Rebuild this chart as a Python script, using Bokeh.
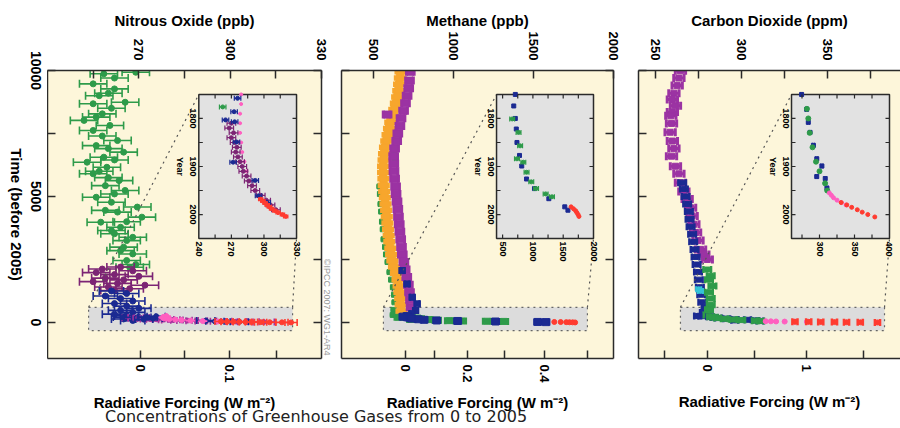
import numpy as np
from bokeh.plotting import figure
from bokeh.models import Range1d, LinearAxis, FixedTicker, CustomJSTickFormatter, Title, Div
from bokeh.layouts import row, column
from bokeh.embed import file_html
from bokeh.resources import INLINE
from bokeh.core.properties import value

# ------------------------------------------------------------------ data
time_ticks = [0, 5000, 10000]
time_minor = [2500, 7500]
time_label = "Time (before 2005)"
year_ticks = [1800, 1900, 2000]
year_minor = [1850, 1950]

# ---- Nitrous oxide (ppb); main panel: t = years before 2005
n2o_top_ticks = [270, 300, 330]
n2o_top_minor = [255, 285, 315]
n2o_rf_ticks = [0.0, 0.1]
n2o_rf_labels = ["0", "0.1"]
n2o_rf_minor = [0.05, 0.15]
n2o_inset_ticks = [240, 270, 300, 330]
n2o_inset_minor = [255, 285, 315]

n2o_green_t = [9930, 9870, 9700, 9470, 9270, 9100, 9000, 8740, 8680, 8500, 8280, 8150, 8020, 7820, 7620,
               7400, 7220, 7020, 6900, 6760, 6560, 6450, 6360, 6160, 6000, 5900, 5750, 5630, 5430, 5240,
               5100, 4970, 4770, 4580, 4450, 4380, 4180, 4000, 3980, 3780, 3650, 3520, 3380, 3250, 2990,
               2850, 2720, 2460, 2300, 2190]
n2o_green_c = [269, 258.5, 262, 255, 262, 260, 257, 265.5, 255, 261, 258, 256, 252, 260.5, 255,
               258, 263, 256, 260, 265, 258.5, 262, 253, 259.5, 257, 255, 260, 263.5, 259, 265.5,
               262, 256, 261, 269.5, 259, 263, 271, 266, 257.5, 264, 261, 262, 268, 266, 265,
               264, 268, 266, 269, 267]
n2o_purple_t = [2200, 2120, 2050, 1980, 1900, 1830, 1760, 1690, 1620, 1550, 1480, 1410, 1340, 1270]
n2o_purple_c = [264, 258, 268, 256, 262, 270, 259, 265, 255, 263, 272, 260, 267, 262]
n2o_blue_t = [1250, 1150, 1050, 950, 850, 750, 650, 560, 480, 400, 330, 260, 200, 140, 80]
n2o_blue_c = [261, 266, 259, 264, 268, 262, 266, 270, 264, 268, 262, 266, 270, 265, 268]

# inset / last centuries (calendar years)
n2o_ins_blue_y = [1758, 1786, 1803, 1807, 1849, 1891, 1929, 1961, 1975]
n2o_ins_blue_c = [275.7, 272.5, 264.6, 273, 274.7, 271.6, 292, 295, 303]
n2o_ins_green_y = [1776]
n2o_ins_green_c = [262]
n2o_ins_purple_y = [1810, 1820, 1830, 1840, 1850, 1860, 1870, 1880, 1890, 1900, 1910, 1920, 1930, 1940,
                    1950, 1960, 1970, 1980, 1990]
n2o_ins_purple_c = [270, 268, 272, 270, 273, 275, 274, 276, 278, 280, 281, 284, 286, 289,
                    292, 297, 302, 306, 311]
n2o_ins_pink_y = [1750, 1770, 1790, 1810, 1830, 1850, 1870, 1890, 1910, 1930, 1950, 1965]
n2o_ins_pink_c = [279, 279, 278, 278, 278, 279, 280, 282, 284, 287, 291, 296]
n2o_ins_red_y = [1968, 1972, 1976, 1980, 1984, 1988, 1992, 1996, 2000, 2004]
n2o_ins_red_c = [297, 299, 301, 303, 305, 307, 310, 313, 317, 320]

# ---- Methane (ppb)
ch4_top_ticks = [500, 1000, 1500, 2000]
ch4_top_minor = []
ch4_rf_ticks = [0.0, 0.2, 0.4]
ch4_rf_labels = ["0", "0.2", "0.4"]
ch4_rf_minor = [0.1, 0.3, 0.5]
ch4_inset_ticks = [500, 1000, 1500, 2000]
ch4_inset_minor = [750, 1250, 1750]

ch4_orange_t = [9950, 9700, 9450, 9200, 8950, 8700, 8450, 8200, 7950, 7700, 7450, 7200, 6950, 6700,
                6450, 6200, 5950, 5700, 5450, 5200, 4950, 4700, 4450, 4200, 3950, 3700, 3450, 3200,
                2950, 2700, 2450, 2200, 1950, 1700, 1450, 1200, 950, 700, 450, 250]
ch4_orange_c = [669, 665, 660, 655, 648, 640, 630, 615, 605, 597, 588, 580, 572, 566,
                563, 560, 560, 562, 564, 567, 571, 575, 579, 583, 587, 591, 595, 599,
                605, 610, 618, 628, 640, 650, 657, 662, 667, 670, 675, 685]
ch4_purple_t = [9950, 9600, 9300, 9000, 8700, 8400, 8250, 8100, 7800, 7500, 7200, 6900, 6600, 6300,
                6000, 5700, 5400, 5100, 4800, 4500, 4200, 3900, 3600, 3300, 3000, 2700, 2400, 2100,
                1800, 1500, 1200, 900, 600]
ch4_purple_c = [730, 725, 720, 710, 700, 688, 585, 672, 665, 652, 645, 632, 626, 627,
                628, 632, 638, 641, 647, 652, 656, 661, 665, 670, 675, 680, 690, 698,
                708, 718, 725, 731, 735]
ch4_green_t = [6700, 6500, 5400, 5100, 4700, 4400, 4000, 3700, 3300, 3000, 2700, 2400, 2000, 1700,
               1400, 1100, 800, 500, 300]
ch4_green_c = [627, 632, 537, 540, 544, 548, 553, 558, 563, 572, 578, 588, 600, 610,
               621, 628, 631, 625, 620]
ch4_blue_t = [2060, 1530, 1000, 740, 475, 350]
ch4_blue_c = [679, 710, 742, 773, 763, 740]

ch4_ins_blue_y = [1750, 1774, 1800, 1822, 1850, 1877, 1899, 1926, 1946, 1967, 1984, 1991]
ch4_ins_blue_c = [710, 684, 710, 726, 737, 779, 816, 895, 1026, 1263, 1526, 1578]
ch4_ins_green_y = [1801, 1829, 1857, 1884, 1891, 1912, 1932, 1946, 1957, 1963]
ch4_ins_green_c = [658, 763, 789, 737, 842, 895, 973, 1052, 1210, 1315]
ch4_ins_red_y = [1984, 1988, 1992, 1996, 2000, 2004]
ch4_ins_red_c = [1630, 1670, 1705, 1725, 1745, 1760]

# ---- Carbon dioxide (ppm)
co2_top_ticks = [250, 300, 350]
co2_top_minor = [275, 325, 375]
co2_rf_ticks = [0.0, 1.0]
co2_rf_labels = ["0", "1"]
co2_rf_minor = [-0.5, 0.5, 1.5]
co2_inset_ticks = [300, 350, 400]
co2_inset_minor = [275, 325, 375]

co2_purple_t = [9990, 9700, 9400, 9100, 8850, 8600, 8350, 8200, 7900, 7550, 7200, 6900, 6600, 6200,
                5900, 5550, 5200, 4900, 4550, 4230, 3900, 3570, 3250, 2900, 2700, 2500]
co2_purple_c = [264.4, 263.5, 262.5, 260.6, 259.7, 261.5, 259.7, 258.8, 259.2, 258.4, 259.7, 260.6,
                259.2, 261.5, 263.5, 264.4, 266.4, 268.3, 270.3, 271.2, 272.2, 273.2, 274.6, 276.1,
                278, 280]
co2_blue_t = [5550, 5300, 5000, 4700, 4400, 4100, 3800, 3500, 3200, 2900, 2600, 2300, 2000, 1700,
              1400, 1100, 800, 600, 400, 250]
co2_blue_c = [265.4, 266.4, 267.4, 268.3, 269.3, 269.7, 270.3, 271.2, 271.8, 272.6, 273.2, 273.8,
              274.6, 275.1, 275.7, 276.5, 277.1, 279, 278, 277.1]
co2_green_t = [2100, 1850, 1700, 1450, 1200, 950, 700, 500, 300]
co2_green_c = [280, 282, 281, 283, 281, 282, 282, 281, 280]
co2_cyan_t = [1320, 1250]
co2_cyan_c = [275, 276]

co2_ins_blue_y = [1750, 1781, 1808, 1829, 1856, 1884, 1899, 1921, 1925, 1945]
co2_ins_blue_c = [274.4, 281.6, 284, 286.5, 291.3, 296.1, 303.4, 296, 308.2, 310.6]
co2_ins_green_y = [1780, 1800, 1830, 1860, 1890, 1910, 1935, 1950]
co2_ins_green_c = [282, 284, 286, 290, 295, 300, 308, 311]
co2_ins_pink_y = [1955, 1960, 1965, 1970, 1975, 1980]
co2_ins_pink_c = [314, 317, 320, 325, 331, 338]
co2_ins_red_y = [1975, 1980, 1985, 1990, 1995, 2000, 2005]
co2_ins_red_c = [331, 339, 346, 354, 361, 369, 379]

# ------------------------------------------------------------------ style
BG = "#fdf6da"
INSET_BG = "#e2e2e2"
HL_BG = "#dcdcdc"
AX = "#2a2a2a"
GREEN = "#2e9b4a"
DPURPLE = "#7c2474"
NAVY = "#1b2a92"
MAGENTA = "#a8329e"
PINK = "#ff5fc0"
RED = "#ff3b30"
ORANGE = "#f7a62d"
PURPLE = "#9b33a3"
CYAN = "#35c4d6"
FONT = "Liberation Sans"
REF_YEAR = 2005
YEAR_SRC = (2050, 1750)
T_RANGE = (-1430, 10000)
INSET_T = (3330, 9050)
HL_T = (-320, 600)
FIG_H = 413
TOP_B = 70
FRAME_H = 288
BOT_B = FIG_H - TOP_B - FRAME_H
LEFT_W = 47


def rf_n2o(r):
    return (np.sqrt(270.5) + np.asarray(r) / 0.115) ** 2


def rf_ch4(r):
    return (np.sqrt(700.0) + np.asarray(r) / 0.0305) ** 2


def rf_co2(r):
    return 280.0 * np.exp(np.asarray(r) / 5.35)


def style_axis(ax, size="13px"):
    ax.axis_line_color = AX
    ax.axis_line_width = 1.5
    ax.major_tick_in = 8
    ax.major_tick_out = 0
    ax.minor_tick_in = 8
    ax.minor_tick_out = 0
    ax.major_tick_line_color = AX
    ax.minor_tick_line_color = AX
    ax.major_tick_line_width = 1.5
    ax.minor_tick_line_width = 1.5
    ax.major_label_text_font = FONT
    ax.major_label_text_font_style = "bold"
    ax.major_label_text_font_size = size
    ax.major_label_text_color = "black"
    ax.axis_label_text_font = FONT
    ax.axis_label_text_font_style = "bold"
    ax.axis_label_text_font_size = "15px"
    ax.axis_label_text_color = "black"


def errbars(g, c, t, e, color, lw=1.5, cap=7, marker="circle", msize=5):
    c = np.asarray(c, float)
    t = np.asarray(t, float)
    g.segment(x0=c - e, y0=t, x1=c + e, y1=t, line_color=color, line_width=lw)
    if cap:
        g.scatter(x=np.concatenate([c - e, c + e]), y=np.concatenate([t, t]), marker="dash",
                  angle=np.pi / 2, size=cap, line_color=color, line_width=lw)
    g.scatter(x=c, y=t, marker=marker, size=msize, fill_color=color, line_color=color)


def to_t(years):
    return REF_YEAR - np.asarray(years, float)


def make_panel(width, bl, br, xr, title, top_t, top_m, rf_t, rf_l, rf_m, rf_fn, right_axis,
               title_standoff, rf_standoff):
    p = figure(width=width, height=FIG_H, x_range=Range1d(*xr), y_range=Range1d(*T_RANGE),
               x_axis_location="above", output_backend="svg", toolbar_location=None,
               min_border_left=bl, min_border_right=br, min_border_top=TOP_B, min_border_bottom=BOT_B)
    p.background_fill_color = BG
    p.border_fill_color = "white"
    p.outline_line_color = None
    p.grid.visible = False

    top = p.above[0]
    top.ticker = FixedTicker(ticks=top_t, minor_ticks=top_m)
    top.axis_label = title
    style_axis(top, "13px")
    top.major_label_orientation = -np.pi / 2
    top.major_label_standoff = 10
    top.axis_label_standoff = title_standoff

    pos = [float(v) for v in rf_fn(rf_t)]
    mpos = [float(v) for v in rf_fn(rf_m)]
    fmt = CustomJSTickFormatter(args=dict(pos=pos, labels=rf_l), code="""
        for (let i = 0; i < pos.length; i++) {
            if (Math.abs(pos[i] - tick) < 1e-6 * Math.max(1, Math.abs(tick))) { return labels[i]; }
        }
        return "";
    """)
    bot = LinearAxis(ticker=FixedTicker(ticks=pos, minor_ticks=mpos), formatter=fmt,
                     axis_label="Radiative Forcing (W m\u207b\u00b2)")
    style_axis(bot, "13px")
    bot.major_label_orientation = -np.pi / 2
    bot.major_label_standoff = 6
    bot.axis_label_standoff = rf_standoff
    p.add_layout(bot, "below")

    left = p.left[0]
    style_axis(left, "14px")
    left.ticker = FixedTicker(ticks=[], minor_ticks=time_ticks + time_minor)
    if right_axis:
        r = LinearAxis(ticker=FixedTicker(ticks=[], minor_ticks=time_ticks + time_minor))
        style_axis(r)
        p.add_layout(r, "right")
    return p


def add_highlight(p, hx):
    p.quad(left=[hx[0]], right=[hx[1]], bottom=[HL_T[0]], top=[HL_T[1]], fill_color=HL_BG,
           line_color="#666666", line_dash="dotted", line_width=1.2)


def add_connectors(p, hx, ix):
    p.segment(x0=[hx[0], hx[1]], y0=[HL_T[1], HL_T[1]], x1=[ix[0], ix[1]], y1=[INSET_T[1], INSET_T[0]],
              line_color="#555555", line_dash="dotted", line_width=1.2)


def make_inset(p, xsrc, xtgt):
    sub = p.subplot(x_source=Range1d(*xsrc), y_source=Range1d(*YEAR_SRC),
                    x_target=Range1d(*xtgt), y_target=Range1d(*INSET_T))
    sub.quad(left=[xsrc[0]], right=[xsrc[1]], bottom=[YEAR_SRC[0]], top=[YEAR_SRC[1]],
             fill_color=INSET_BG, line_color=AX, line_width=1.5)
    return sub


def inset_axes(sub, xsrc, xt, xm):
    yt = year_ticks + year_minor
    n = len(yt)
    kw = dict(length=4, length_units="screen", line_color=AX, line_width=1.2)
    sub.ray(x=[xsrc[0]] * n, y=yt, angle=0, **kw)
    sub.ray(x=[xsrc[1]] * n, y=yt, angle=np.pi, **kw)
    xa = [v for v in xt + xm if xsrc[0] < v < xsrc[1]]
    m = len(xa)
    sub.ray(x=xa, y=[YEAR_SRC[0]] * m, angle=np.pi / 2, **kw)
    sub.ray(x=xa, y=[YEAR_SRC[1]] * m, angle=-np.pi / 2, **kw)
    tk = dict(text_font=value(FONT), text_font_style="bold", text_font_size="9px", text_color="black",
              angle=-np.pi / 2)
    sub.text(x=[xsrc[0]] * len(year_ticks), y=year_ticks, text=[str(v) for v in year_ticks],
             text_align="center", text_baseline="top", x_offset=-3, **tk)
    sub.text(x=[xsrc[0]], y=[1900], text=["Year"], text_align="center", text_baseline="top",
             x_offset=-14, **tk)
    sub.text(x=xt, y=[YEAR_SRC[0]] * len(xt), text=[str(v) for v in xt],
             text_align="left", text_baseline="middle", y_offset=3, **tk)


# ------------------------------------------------------------------ left label column (time axis labels)
px_per_yr = FRAME_H / (T_RANGE[1] - T_RANGE[0])
p0 = figure(width=LEFT_W, height=FIG_H, x_range=Range1d(0, LEFT_W),
            y_range=Range1d(T_RANGE[0] - BOT_B / px_per_yr, T_RANGE[1] + TOP_B / px_per_yr),
            x_axis_type=None, y_axis_type=None, output_backend="svg", toolbar_location=None,
            min_border=0)
p0.frame_align = False
p0.outline_line_color = None
p0.grid.visible = False
p0.background_fill_color = "white"
p0.text(x=[35] * len(time_ticks), y=time_ticks, text=[str(v) for v in time_ticks], angle=-np.pi / 2,
        text_align="center", text_baseline="middle", text_font=value(FONT), text_font_style="bold",
        text_font_size="14px", text_color="black")
p0.text(x=[16], y=[(T_RANGE[0] + T_RANGE[1]) / 2], text=[time_label], angle=-np.pi / 2,
        text_align="center", text_baseline="middle", text_font=value(FONT), text_font_style="bold",
        text_font_size="15px", text_color="black")

# ------------------------------------------------------------------ panel 1: N2O
N2O_X = (240, 330)
N2O_HL = (253.5, 320.5)
N2O_IN = (289.7, 321.8)
p1 = make_panel(334 - LEFT_W, 0, 12, N2O_X, "Nitrous Oxide (ppb)", n2o_top_ticks, n2o_top_minor,
                n2o_rf_ticks, n2o_rf_labels, n2o_rf_minor, rf_n2o, True, 7, 8)
add_highlight(p1, N2O_HL)
errbars(p1, n2o_green_c, n2o_green_t, 4.5, GREEN, lw=1.6, cap=8, msize=6)
errbars(p1, n2o_purple_c, n2o_purple_t, 4.5, DPURPLE, lw=1.6, cap=8, msize=6)
errbars(p1, n2o_blue_c, n2o_blue_t, 4.0, NAVY, lw=1.6, cap=8, msize=6)
errbars(p1, n2o_ins_purple_c, to_t(n2o_ins_purple_y), 3.5, MAGENTA, lw=1.6, cap=7)
errbars(p1, n2o_ins_blue_c, to_t(n2o_ins_blue_y), 3.0, NAVY, lw=1.6, cap=7)
errbars(p1, n2o_ins_pink_c, to_t(n2o_ins_pink_y), 1.5, PINK, lw=1.6, cap=0)
errbars(p1, n2o_ins_red_c, to_t(n2o_ins_red_y), 2.0, RED, lw=1.6, cap=7)
add_connectors(p1, N2O_HL, N2O_IN)
s1 = make_inset(p1, N2O_X, N2O_IN)
errbars(s1, n2o_ins_pink_c, n2o_ins_pink_y, 1.5, PINK, lw=1.2, cap=0, msize=3)
errbars(s1, n2o_ins_purple_c, n2o_ins_purple_y, 4.0, DPURPLE, lw=1.2, cap=5, msize=4)
errbars(s1, n2o_ins_blue_c, n2o_ins_blue_y, 3.0, NAVY, lw=1.2, cap=5, msize=4)
errbars(s1, n2o_ins_green_c, n2o_ins_green_y, 3.0, GREEN, lw=1.2, cap=5, msize=4)
errbars(s1, n2o_ins_red_c, n2o_ins_red_y, 2.0, RED, lw=1.2, cap=4, msize=4)
inset_axes(s1, N2O_X, n2o_inset_ticks, n2o_inset_minor)
p1.add_layout(Title(text="\u00a9IPCC 2007: WG1-AR4", align="right", text_font=FONT,
                    text_font_size="9px", text_font_style="normal", text_color="#9a9a9a",
                    standoff=1, offset=3), "right")

# ------------------------------------------------------------------ panel 2: CH4
CH4_X = (300, 2000)
CH4_HL = (562, 1837)
CH4_IN = (1269, 1875)
CH4_SRC = (400, 2000)
p2 = make_panel(287, 7, 8, CH4_X, "Methane (ppb)", ch4_top_ticks, ch4_top_minor,
                ch4_rf_ticks, ch4_rf_labels, ch4_rf_minor, rf_ch4, True, 0, 8)
add_highlight(p2, CH4_HL)
errbars(p2, ch4_green_c, ch4_green_t, 18, GREEN, lw=3, cap=0, marker="square", msize=5)
errbars(p2, ch4_orange_c, ch4_orange_t, 38, ORANGE, lw=5.5, cap=0, marker="square", msize=7)
errbars(p2, ch4_purple_c, ch4_purple_t, 24, PURPLE, lw=3, cap=8, marker="square", msize=7)
errbars(p2, ch4_blue_c, ch4_blue_t, 15, NAVY, lw=2.5, cap=7, marker="square", msize=6)
errbars(p2, ch4_ins_green_c, to_t(ch4_ins_green_y), 25, GREEN, lw=2.5, cap=7, marker="square", msize=6)
errbars(p2, ch4_ins_blue_c, to_t(ch4_ins_blue_y), 20, NAVY, lw=2.5, cap=7, marker="square", msize=7)
errbars(p2, ch4_ins_red_c, to_t(ch4_ins_red_y), 10, RED, lw=2.5, cap=0, msize=5)
add_connectors(p2, CH4_HL, CH4_IN)
s2 = make_inset(p2, CH4_SRC, CH4_IN)
errbars(s2, ch4_ins_blue_c, ch4_ins_blue_y, 15, NAVY, lw=1.5, cap=0, marker="square", msize=4)
errbars(s2, ch4_ins_green_c, ch4_ins_green_y, 40, GREEN, lw=1.2, cap=5, msize=4)
errbars(s2, ch4_ins_red_c, ch4_ins_red_y, 10, RED, lw=1.5, cap=0, msize=4)
inset_axes(s2, CH4_SRC, ch4_inset_ticks, ch4_inset_minor)

# ------------------------------------------------------------------ panel 3: CO2
CO2_X = (240, 392.4)
CO2_HL = (264.4, 383.1)
CO2_IN = (329, 386)
CO2_SRC = (260, 400)
p3 = make_panel(279, 17, 0, CO2_X, "Carbon Dioxide (ppm)", co2_top_ticks, co2_top_minor,
                co2_rf_ticks, co2_rf_labels, co2_rf_minor, rf_co2, False, 7, 18)
add_highlight(p3, CO2_HL)
errbars(p3, co2_purple_c, co2_purple_t, 3.0, PURPLE, lw=3, cap=8, marker="square", msize=6)
errbars(p3, co2_blue_c, co2_blue_t, 2.2, NAVY, lw=2.5, cap=7, marker="square", msize=5)
errbars(p3, co2_green_c, co2_green_t, 2.2, GREEN, lw=2.5, cap=7, marker="square", msize=5)
errbars(p3, co2_cyan_c, co2_cyan_t, 1.5, CYAN, lw=2, cap=6, msize=5)
errbars(p3, co2_ins_blue_c, to_t(co2_ins_blue_y), 2.0, NAVY, lw=2.5, cap=7, marker="square", msize=5)
errbars(p3, co2_ins_green_c, to_t(co2_ins_green_y), 2.0, GREEN, lw=2.5, cap=7, marker="square", msize=5)
errbars(p3, co2_ins_pink_c, to_t(co2_ins_pink_y), 1.5, PINK, lw=2.5, cap=0, msize=5)
errbars(p3, co2_ins_red_c, to_t(co2_ins_red_y), 1.5, RED, lw=2.5, cap=7, msize=5)
add_connectors(p3, CO2_HL, CO2_IN)
s3 = make_inset(p3, CO2_SRC, CO2_IN)
errbars(s3, co2_ins_blue_c, co2_ins_blue_y, 1.5, NAVY, lw=1.2, cap=5, marker="square", msize=4)
errbars(s3, co2_ins_green_c, co2_ins_green_y, 1.5, GREEN, lw=1.2, cap=0, msize=5)
errbars(s3, co2_ins_pink_c, co2_ins_pink_y, 1.0, PINK, lw=1.2, cap=0, msize=4)
errbars(s3, co2_ins_red_c, co2_ins_red_y, 1.0, RED, lw=1.2, cap=0, msize=4)
inset_axes(s3, CO2_SRC, co2_inset_ticks, co2_inset_minor)

caption = Div(text="Concentrations of Greenhouse Gases from 0 to 2005", width=900, height=15,
              styles={"font-family": "DejaVu Sans", "font-size": "16px", "line-height": "15px",
                      "text-indent": "100px", "white-space": "nowrap", "color": "#222222",
                      "margin-top": "-4px"})

layout = column(row(p0, p1, p2, p3, spacing=0), caption, spacing=0)
open("out.html", "w").write(file_html(layout, INLINE))
